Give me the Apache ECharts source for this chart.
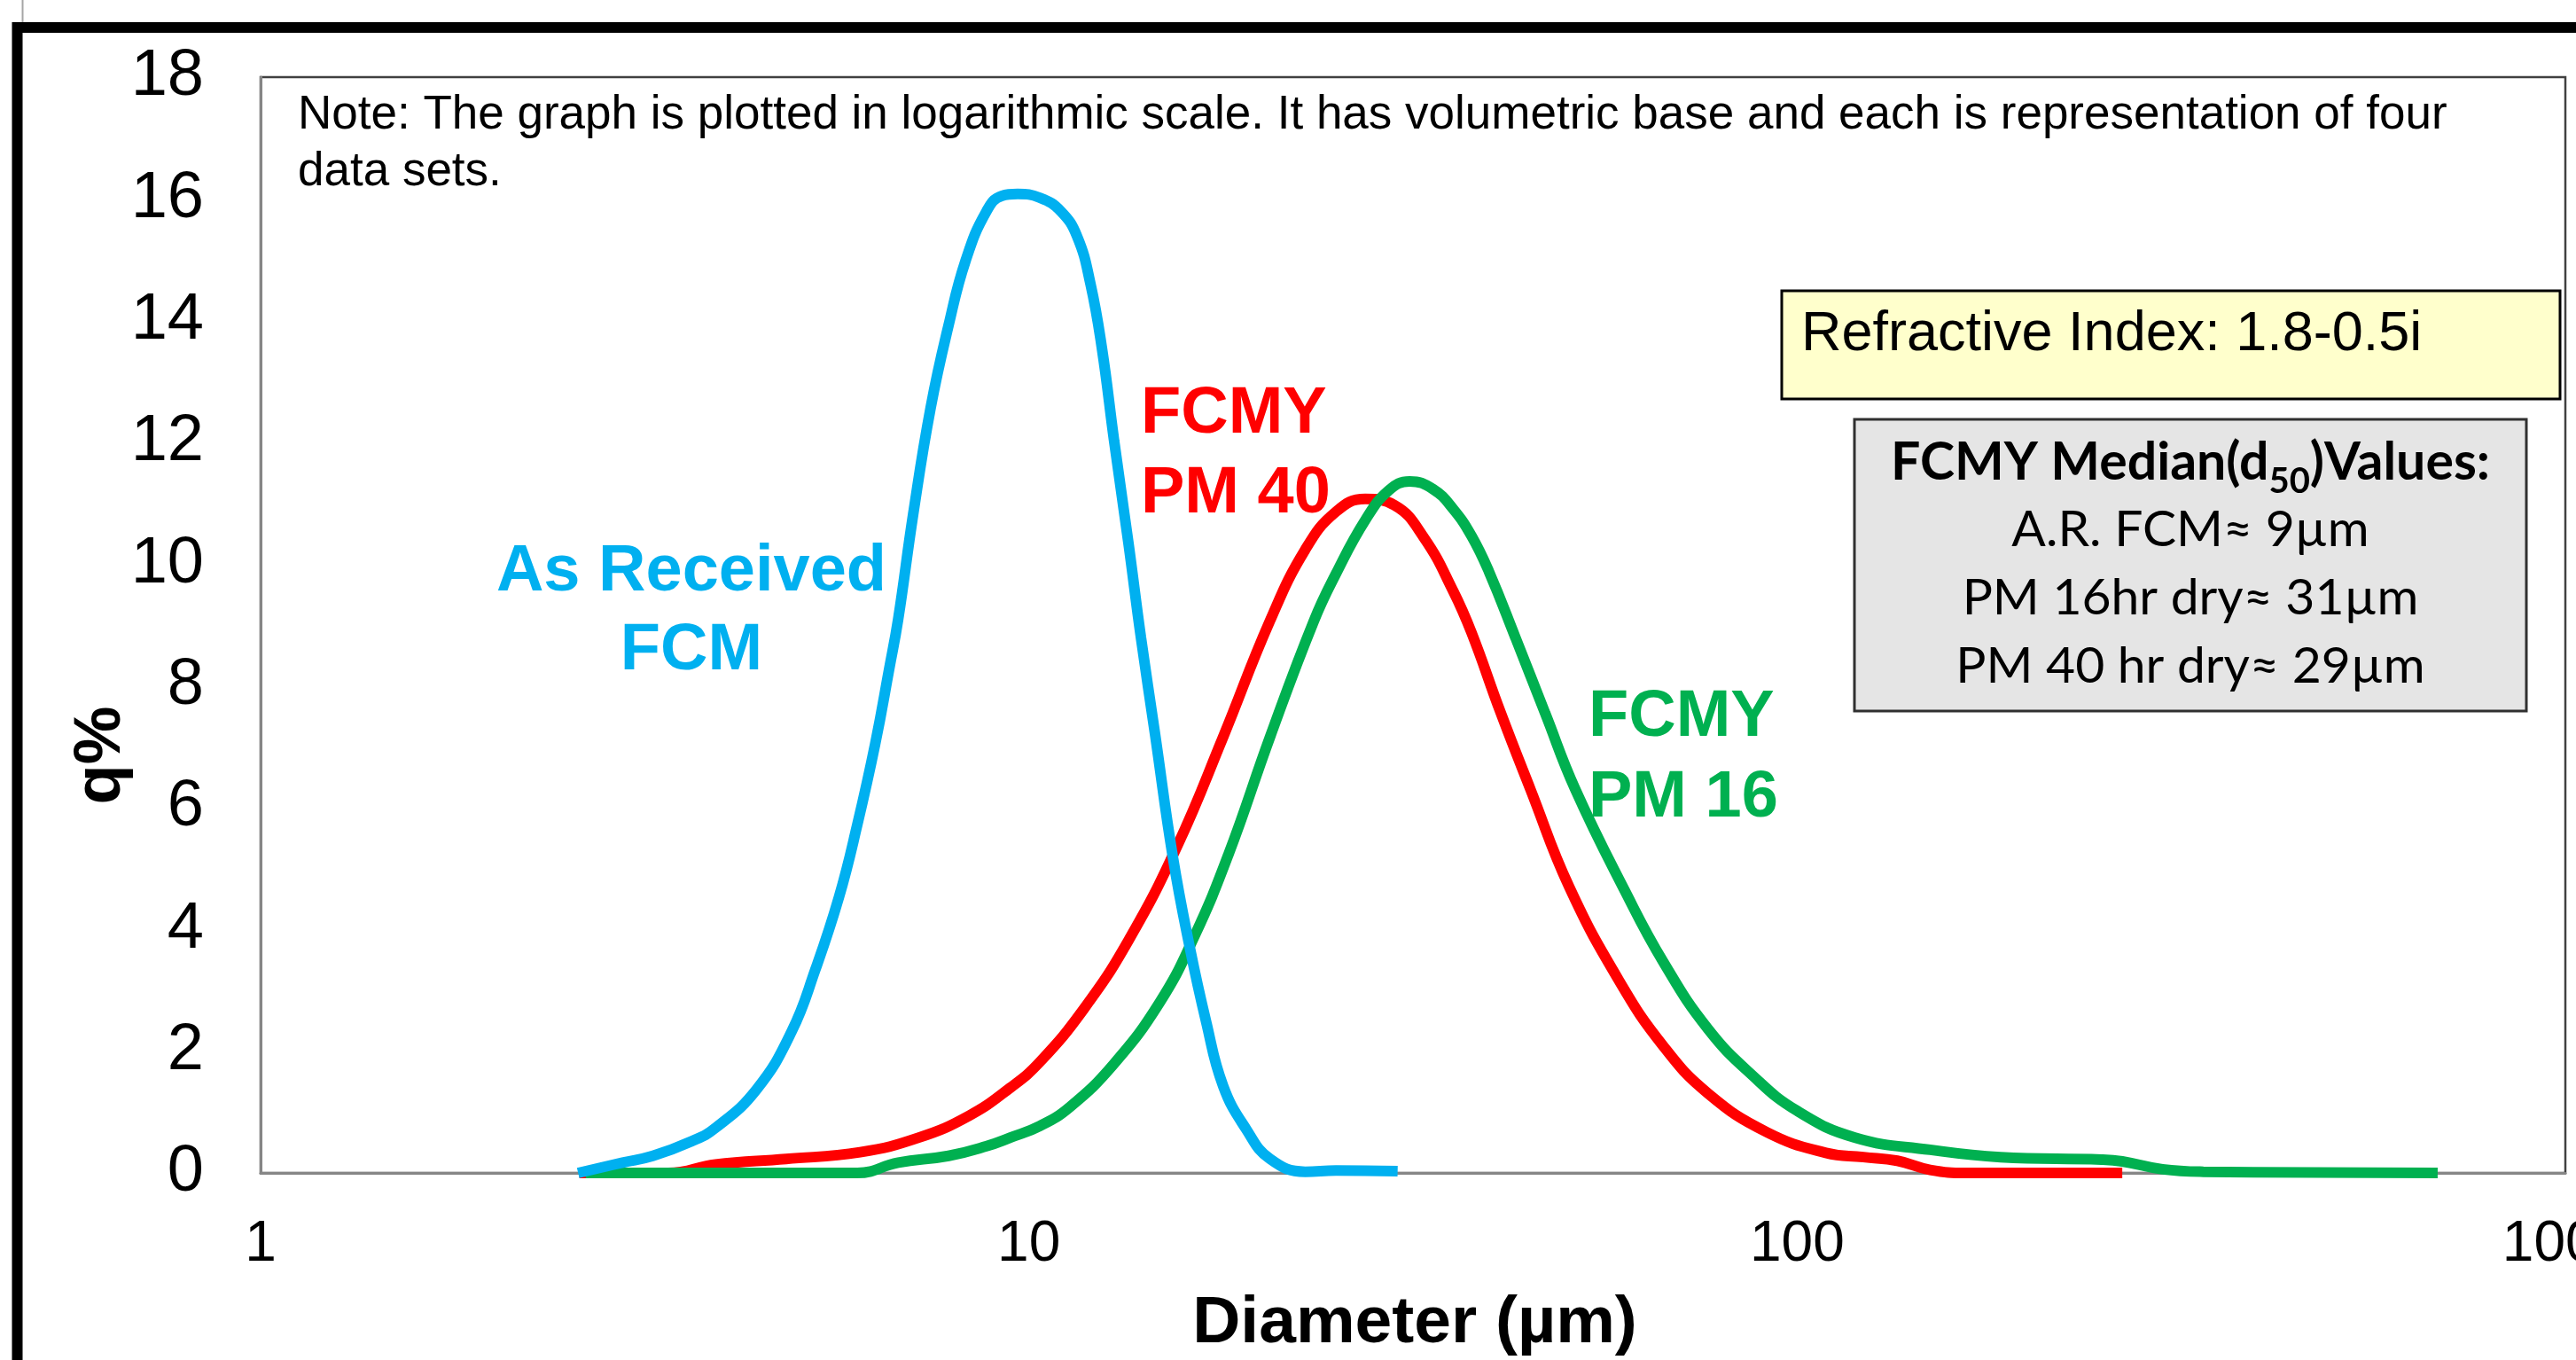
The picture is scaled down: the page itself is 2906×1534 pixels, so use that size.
<!DOCTYPE html>
<html>
<head>
<meta charset="utf-8">
<script src="https://cdn.jsdelivr.net/npm/echarts@6/dist/echarts.min.js"></script>
<style>
html,body{margin:0;padding:0;background:#fff;}
#chart{width:2906px;height:1534px;}
</style>
</head>
<body>
<div id="chart"></div>
<script>
// ---- data (diameter in µm, q in %) ----
const asReceivedD = [2.59, 2.96, 3.24, 3.64, 3.91, 4.42, 4.91, 5.27, 5.66, 5.98, 6.31, 6.58, 6.76, 7.07, 7.45, 7.86, 8.28, 8.81, 9.22, 9.67, 10.33, 11.0, 11.56, 12.03, 12.45, 12.91, 13.48, 13.99, 14.6, 15.4, 16.2, 17.0, 17.9, 19.2, 20.6, 22.9, 25.1, 30.2];
const asReceivedQ = [0, 0.17, 0.28, 0.52, 0.74, 1.37, 2.32, 3.33, 4.53, 5.72, 7.05, 8.28, 9.1, 10.82, 12.57, 13.92, 15.0, 15.8, 16.05, 16.08, 16.02, 15.8, 15.38, 14.6, 13.54, 12.03, 10.34, 8.8, 7.2, 5.18, 3.70, 2.50, 1.43, 0.71, 0.23, 0.02, 0.04, 0.03];

const pm40D = [2.6, 3.39, 3.91, 4.83, 6.03, 7.19, 8.36, 9.46, 10.33, 11.8, 13.48, 15.6, 17.9, 20.6, 22.9, 25.1, 27.4, 29.9, 32.7, 35.7, 37.7, 41.1, 45.0, 50.5, 58.7, 67.0, 76.5, 91.3, 109, 122, 135, 149, 166, 265];
const pm40Q = [0, 0, 0.14, 0.23, 0.34, 0.58, 0.94, 1.40, 1.82, 2.70, 3.82, 5.37, 7.16, 9.07, 10.24, 10.86, 11.07, 10.97, 10.43, 9.55, 8.87, 7.57, 6.29, 4.70, 3.15, 2.08, 1.31, 0.67, 0.33, 0.26, 0.20, 0.05, 0.0, 0.0];

const pm16D = [2.65, 4.5, 5.98, 6.76, 7.86, 8.81, 9.46, 10.33, 11.3, 12.9, 14.8, 16.4, 18.2, 20.6, 23.5, 25.1, 27.4, 29.4, 31.3, 33.6, 35.7, 37.7, 39.7, 43.0, 47.0, 51.4, 59.7, 67.0, 76.5, 87.5, 100, 119, 149, 184, 249, 265, 299, 338, 682];
const pm16Q = [0, 0, 0, 0.17, 0.28, 0.44, 0.58, 0.77, 1.08, 1.79, 2.80, 3.87, 5.24, 7.16, 9.07, 9.84, 10.72, 11.21, 11.36, 11.23, 10.90, 10.46, 9.88, 8.79, 7.55, 6.31, 4.63, 3.46, 2.37, 1.60, 1.02, 0.58, 0.38, 0.26, 0.22, 0.19, 0.06, 0.02, 0.0];

const xTickValues = [1, 10, 100, 1000];
const yTickValues = [0, 2, 4, 6, 8, 10, 12, 14, 16, 18];

const noteLine1 = 'Note: The graph is plotted in logarithmic scale. It has volumetric base and each is representation of four';
const noteLine2 = 'data sets.';
const refractiveText = 'Refractive Index: 1.8-0.5i';
const medianLines = ['A.R. FCM\u2248 9\u00b5m', 'PM 16hr dry\u2248 31\u00b5m', 'PM 40 hr dry\u2248 29\u00b5m'];

function pairs(xs, ys) { return xs.map((x, i) => [x, ys[i]]); }

const AR = 'Liberation Sans, Arial, sans-serif';
const CAL = 'Lato, Carlito, sans-serif';

const chart = echarts.init(document.getElementById('chart'), null, {renderer: 'canvas'});
chart.setOption({
  animation: false,
  backgroundColor: '#fff',
  grid: {left: 294, top: 87, right: 12, bottom: 211, containLabel: false, outerBoundsMode: 'none',
    show: true, borderColor: '#404040', borderWidth: 2.5, backgroundColor: 'transparent'},
  xAxis: {
    type: 'log', logBase: 10, min: 1, max: 1000,
    axisLine: {show: true, onZero: false, lineStyle: {color: '#868686', width: 3}},
    axisTick: {show: false},
    splitLine: {show: false},
    minorTick: {show: false},
    axisLabel: {
      color: '#000', fontFamily: AR, fontSize: 64, margin: 49, hideOverlap: false,
      formatter: v => xTickValues.includes(Math.round(v)) ? String(Math.round(v)) : ''
    }
  },
  yAxis: {
    type: 'value', min: 0, max: 18, interval: 2,
    axisLine: {show: true, lineStyle: {color: '#868686', width: 3}},
    axisTick: {show: false},
    splitLine: {show: false},
    axisLabel: {color: '#000', fontFamily: AR, fontSize: 74, margin: 64,
      formatter: v => yTickValues.includes(v) ? String(v) : ''}
  },
  series: [
    {name: 'FCMY PM 40', type: 'line', data: pairs(pm40D, pm40Q), smooth: 0.45, showSymbol: false,
      lineStyle: {color: '#FF0000', width: 12}, z: 2},
    {name: 'FCMY PM 16', type: 'line', data: pairs(pm16D, pm16Q), smooth: 0.45, showSymbol: false,
      lineStyle: {color: '#00B050', width: 12}, z: 3},
    {name: 'As Received FCM', type: 'line', data: pairs(asReceivedD, asReceivedQ), smooth: 0.45, showSymbol: false,
      lineStyle: {color: '#00B0F0', width: 12}, z: 4}
  ],
  graphic: [
    // outer thick frame
    {type: 'rect', shape: {x: 19.5, y: 31, width: 4000, height: 3000}, style: {fill: 'none', stroke: '#000', lineWidth: 12}, z: 20},
    {type: 'line', shape: {x1: 25.5, y1: 0, x2: 25.5, y2: 25}, style: {stroke: '#a6a6a6', lineWidth: 2}, z: 20},
    // note
    {type: 'text', x: 336, y: 130, style: {text: noteLine1, font: '53px ' + AR, fill: '#000', align: 'left', verticalAlign: 'middle'}, z: 20},
    {type: 'text', x: 336, y: 194, style: {text: noteLine2, font: '53px ' + AR, fill: '#000', align: 'left', verticalAlign: 'middle'}, z: 20},
    // series labels
    {type: 'text', x: 780, y: 646, style: {text: 'As Received', font: 'bold 74px ' + AR, fill: '#00B0F0', align: 'center', verticalAlign: 'middle'}, z: 20},
    {type: 'text', x: 780, y: 735, style: {text: 'FCM', font: 'bold 74px ' + AR, fill: '#00B0F0', align: 'center', verticalAlign: 'middle'}, z: 20},
    {type: 'text', x: 1287, y: 468, style: {text: 'FCMY', font: 'bold 74px ' + AR, fill: '#FF0000', align: 'left', verticalAlign: 'middle'}, z: 20},
    {type: 'text', x: 1287, y: 558, style: {text: 'PM 40', font: 'bold 74px ' + AR, fill: '#FF0000', align: 'left', verticalAlign: 'middle'}, z: 20},
    {type: 'text', x: 1792, y: 810, style: {text: 'FCMY', font: 'bold 74px ' + AR, fill: '#00B050', align: 'left', verticalAlign: 'middle'}, z: 20},
    {type: 'text', x: 1792, y: 901, style: {text: 'PM 16', font: 'bold 74px ' + AR, fill: '#00B050', align: 'left', verticalAlign: 'middle'}, z: 20},
    // refractive index box
    {type: 'rect', shape: {x: 2010, y: 328, width: 878, height: 122}, style: {fill: '#FFFFCC', stroke: '#000', lineWidth: 3}, z: 20},
    {type: 'text', x: 2032, y: 378, style: {text: refractiveText, font: '63px ' + AR, fill: '#000', align: 'left', verticalAlign: 'middle'}, z: 21},
    // median box
    {type: 'rect', shape: {x: 2092, y: 473, width: 758, height: 329}, style: {fill: '#E5E5E5', stroke: '#303030', lineWidth: 3}, z: 20},
    {type: 'text', x: 2471, y: 522, style: {
      text: '{b|FCMY Median(d}{s|50}{b|)Values:}', align: 'center', verticalAlign: 'middle',
      rich: {
        b: {fontFamily: CAL, fontWeight: 'bold', fontSize: 59, lineHeight: 74, fill: '#000'},
        s: {fontFamily: CAL, fontWeight: 'bold', fontSize: 40, lineHeight: 74, padding: [42, 0, 0, 0], fill: '#000'}
      }}, z: 21},
    {type: 'text', x: 2471, y: 598, style: {text: medianLines[0], font: '57px ' + CAL, fill: '#000', align: 'center', verticalAlign: 'middle'}, z: 21},
    {type: 'text', x: 2471, y: 675, style: {text: medianLines[1], font: '57px ' + CAL, fill: '#000', align: 'center', verticalAlign: 'middle'}, z: 21},
    {type: 'text', x: 2471, y: 752, style: {text: medianLines[2], font: '57px ' + CAL, fill: '#000', align: 'center', verticalAlign: 'middle'}, z: 21},
    // axis titles
    {type: 'text', x: 1596, y: 1493, style: {text: 'Diameter (\u00b5m)', font: 'bold 75px ' + AR, fill: '#000', align: 'center', verticalAlign: 'middle'}, z: 20},
    {type: 'text', x: 115, y: 852, rotation: Math.PI / 2, style: {text: 'q%', font: 'bold 74px ' + AR, fill: '#000', align: 'center', verticalAlign: 'middle'}, z: 20}
  ]
});
</script>
</body>
</html>
